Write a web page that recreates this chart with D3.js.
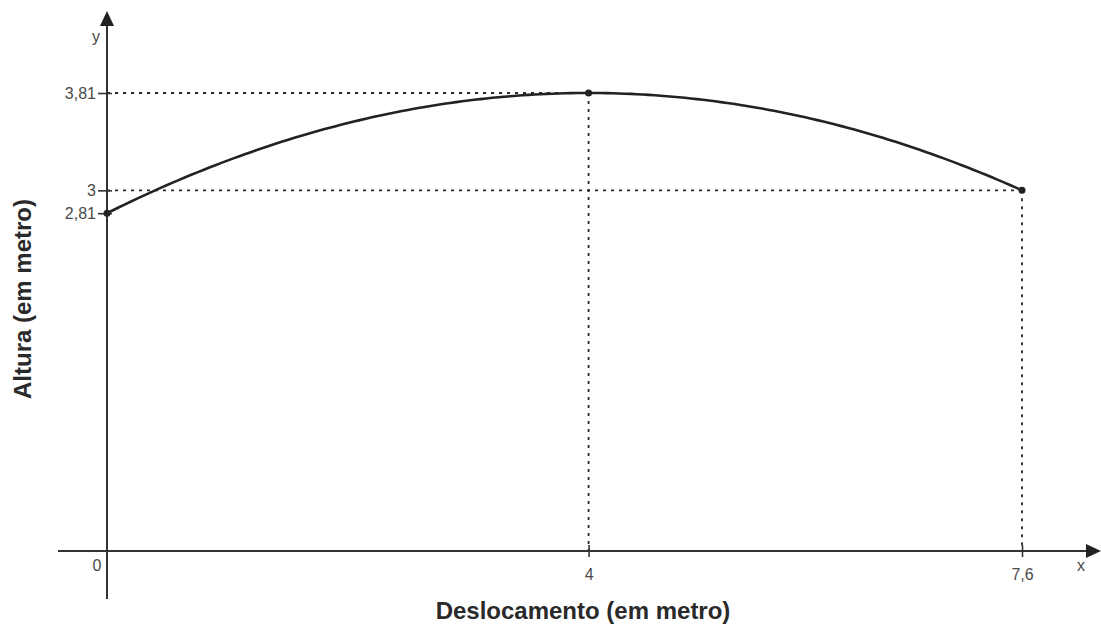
<!DOCTYPE html>
<html>
<head>
<meta charset="utf-8">
<script src="https://cdn.jsdelivr.net/npm/d3@7"></script>
<style>
  html, body { margin: 0; padding: 0; background: #fff; }
  svg { display: block; font-family: "Liberation Sans", Arial, sans-serif; }
</style>
</head>
<body>
<svg id="chart" width="1101" height="626"></svg>
<script>
// ---- data ----
const pointX = [0, 4, 7.6];
const pointY = [2.81, 3.81, 3];
const xTickValues = [4, 7.6];
const xTickLabels = ["4", "7,6"];
const yTickValues = [2.81, 3, 3.81];
const yTickLabels = ["2,81", "3", "3,81"];
const xTitle = "Deslocamento (em metro)";
const yTitle = "Altura (em metro)";
// parabola through the three points: vertex (4, 3.81), a = -1/16
const curveA = -1 / 16, curveH = 4, curveK = 3.81;
const curveX = d3.range(0, 7.6001, 0.05);

const svg = d3.select("#chart");
const x = d3.scaleLinear().domain([0, 7.6]).range([107, 1022]);
const y = d3.scaleLinear().domain([0, 3.81]).range([551, 93]);

const ink = "#222";
const textCol = "#4a4a4a";
const fontTick = 16;

// axes lines
svg.append("line").attr("x1", 58).attr("x2", 1088).attr("y1", y(0)).attr("y2", y(0))
  .attr("stroke", "#333").attr("stroke-width", 2);
svg.append("line").attr("x1", x(0)).attr("x2", x(0)).attr("y1", 24).attr("y2", 599)
  .attr("stroke", "#333").attr("stroke-width", 2);
// arrowheads
svg.append("path").attr("d", `M1101,${y(0)} L1086,${y(0)-7} L1086,${y(0)+7} Z`).attr("fill", ink);
svg.append("path").attr("d", `M${x(0)},11 L${x(0)-7},26 L${x(0)+7},26 Z`).attr("fill", ink);

// dotted guide lines
const guides = svg.append("g").attr("stroke", "#2a2a2a").attr("stroke-width", 1.8)
  .attr("stroke-dasharray", "3,5");
pointX.forEach((px, i) => {
  if (px > 0) {
    guides.append("line").attr("x1", x(0)).attr("x2", x(px)).attr("y1", y(pointY[i])).attr("y2", y(pointY[i]));
    guides.append("line").attr("x1", x(px)).attr("x2", x(px)).attr("y1", y(pointY[i])).attr("y2", y(0));
  }
});

// axis ticks via d3 axes
const yAxis = d3.axisLeft(y).tickValues(yTickValues)
  .tickFormat((d, i) => yTickLabels[i]).tickSize(9).tickPadding(2);
const gy = svg.append("g").attr("transform", `translate(${x(0)},0)`).call(yAxis);
gy.select(".domain").remove();
gy.selectAll(".tick line").attr("x1", -9).attr("x2", 5).attr("stroke", "#333").attr("stroke-width", 1.6);
gy.selectAll(".tick text").attr("fill", textCol).attr("font-size", fontTick)
  .attr("font-family", "Liberation Sans, Arial, sans-serif");

const xAxis = d3.axisBottom(x).tickValues(xTickValues)
  .tickFormat((d, i) => xTickLabels[i]).tickSize(6).tickPadding(12);
const gx = svg.append("g").attr("transform", `translate(0,${y(0)})`).call(xAxis);
gx.select(".domain").remove();
gx.selectAll(".tick line").attr("y1", -6).attr("y2", 6).attr("stroke", "#333").attr("stroke-width", 1.6);
gx.selectAll(".tick text").attr("fill", textCol).attr("font-size", fontTick)
  .attr("font-family", "Liberation Sans, Arial, sans-serif");

// origin label, axis letters
svg.append("text").attr("x", 97).attr("y", 571).attr("text-anchor", "middle")
  .attr("fill", textCol).attr("font-size", fontTick).text("0");
svg.append("text").attr("x", 1081).attr("y", 571).attr("text-anchor", "middle")
  .attr("fill", textCol).attr("font-size", fontTick).text("x");
svg.append("text").attr("x", 96).attr("y", 42).attr("text-anchor", "middle")
  .attr("fill", textCol).attr("font-size", fontTick).text("y");

// curve
const line = d3.line().x(d => x(d)).y(d => y(curveA * (d - curveH) ** 2 + curveK)).curve(d3.curveLinear);
svg.append("path").datum(curveX).attr("d", line).attr("fill", "none")
  .attr("stroke", ink).attr("stroke-width", 2.6);

// points
svg.selectAll("circle.pt").data(pointX).enter().append("circle")
  .attr("cx", d => x(d)).attr("cy", (d, i) => y(pointY[i])).attr("r", 3.5).attr("fill", ink);

// titles
svg.append("text").attr("x", 583).attr("y", 619).attr("text-anchor", "middle")
  .attr("font-weight", "bold").attr("font-size", 24).attr("fill", "#2a2a2a").text(xTitle);
svg.append("text").attr("transform", "translate(31,299) rotate(-90)").attr("text-anchor", "middle")
  .attr("font-weight", "bold").attr("font-size", 24).attr("fill", "#2a2a2a").text(yTitle);
</script>
</body>
</html>
